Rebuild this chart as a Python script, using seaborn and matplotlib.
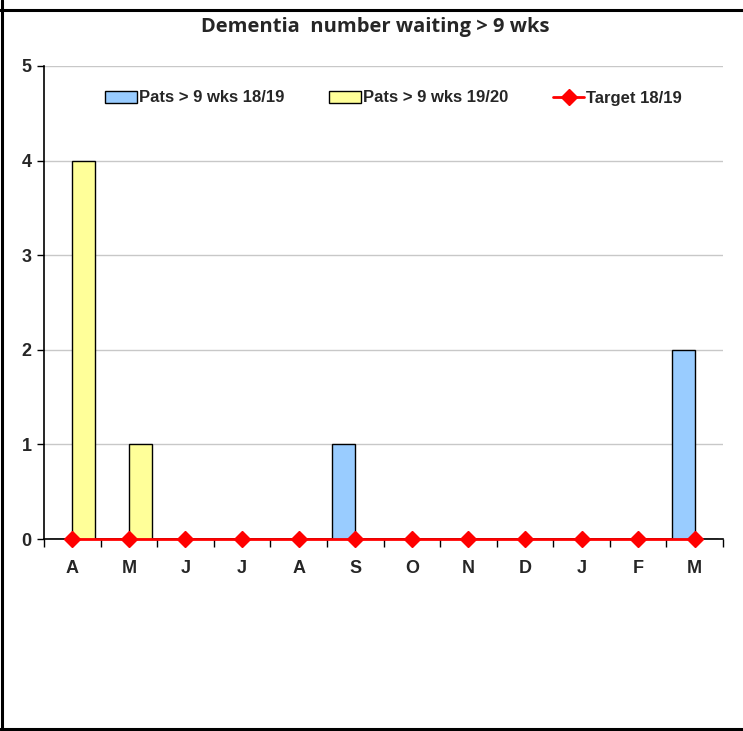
import matplotlib
matplotlib.use("Agg")
import matplotlib.pyplot as plt
from matplotlib import font_manager
from matplotlib.lines import Line2D
from matplotlib.patches import Patch
import numpy as np
import pandas as pd
import seaborn as sns

months = ["A", "M", "J", "J", "A", "S", "O", "N", "D", "J", "F", "M"]
pats_1819 = [0, 0, 0, 0, 0, 1, 0, 0, 0, 0, 0, 2]
pats_1920 = [4, 1, 0, 0, 0, 0, 0, 0, 0, 0, 0, 0]
target_1819 = [0, 0, 0, 0, 0, 0, 0, 0, 0, 0, 0, 0]
series_names = ["Pats > 9 wks 18/19", "Pats > 9 wks 19/20"]
target_name = "Target 18/19"
title = "Dementia  number waiting > 9 wks"

sns.set_theme(style="white")
available = {f.name for f in font_manager.fontManager.ttflist}
narrow = "Liberation Sans Narrow" if "Liberation Sans Narrow" in available else "Liberation Sans"
plt.rcParams["font.family"] = [narrow, "DejaVu Sans"]

slot = [f"{i}" for i in range(len(months))]
df = pd.DataFrame({
    "slot": slot * 2,
    "value": pats_1819 + pats_1920,
    "series": [series_names[0]] * 12 + [series_names[1]] * 12,
})

fig = plt.figure(figsize=(7.43, 7.31), dpi=100)
ax = fig.add_axes([44 / 743, 1 - 539 / 731, (723 - 44) / 743, (539 - 66) / 731])

colors = {series_names[0]: "#99CCFF", series_names[1]: "#FFFF99"}
sns.barplot(data=df, x="slot", y="value", hue="series", hue_order=series_names,
            palette=colors, width=0.82, edgecolor="black", linewidth=1.0,
            saturation=1, legend=False, ax=ax, zorder=3)

ax.plot(np.arange(len(months)), target_1819, color="#FF0000", lw=2,
        marker="D", markersize=8, zorder=5, clip_on=False)

ax.set_xlim(-0.5, 11.5)
ax.set_ylim(0, 5)
ax.set_yticks(range(0, 6))
ax.yaxis.grid(True, color="#C8C8C8", lw=1)
ax.set_axisbelow(True)
ax.set_xticks(np.arange(len(months)))
ax.set_xticklabels(months)
ax.set_xticks(np.arange(-0.5, 12, 1), minor=True)
ax.tick_params(axis="x", which="major", length=0, pad=15, labelsize=13)
ax.tick_params(axis="x", which="minor", length=6, width=1, direction="out", color="black", bottom=True)
ax.tick_params(axis="y", length=5, width=1, direction="out", color="black", left=True, labelsize=13, pad=4)
for lab in ax.get_xticklabels() + ax.get_yticklabels():
    lab.set_fontweight("bold")
ax.set_xlabel("")
ax.set_ylabel("")
for side in ("top", "right"):
    ax.spines[side].set_visible(False)
for side in ("left", "bottom"):
    ax.spines[side].set_color("black")
    ax.spines[side].set_linewidth(1.2)

handles = [
    Patch(facecolor="#99CCFF", edgecolor="black", lw=1),
    Patch(facecolor="#FFFF99", edgecolor="black", lw=1),
    Line2D([0], [0], color="#FF0000", lw=2, marker="D", markersize=8),
]
leg = ax.legend(handles, series_names + [target_name], ncol=3, frameon=False,
                loc="center", bbox_to_anchor=(0.515, 1 - (98 - 66) / (539 - 66)),
                prop={"weight": "bold", "size": 12}, handlelength=1.9,
                handleheight=0.7, handletextpad=0.1, columnspacing=2.7)

fig.text(375 / 743, 1 - 27 / 731, title, ha="center", va="center",
         fontsize=14.5, fontweight="bold", family=["Open Sans", "DejaVu Sans"])

# frame lines of the surrounding cell
fig.add_artist(Line2D([0, 1], [1 - 10 / 731, 1 - 10 / 731], color="black", lw=2.2, transform=fig.transFigure))
fig.add_artist(Line2D([2 / 743, 2 / 743], [0, 1], color="black", lw=2.2, transform=fig.transFigure))
fig.add_artist(Line2D([0, 1], [2 / 731, 2 / 731], color="black", lw=2.2, transform=fig.transFigure))

fig.savefig("out.png", dpi=100)
